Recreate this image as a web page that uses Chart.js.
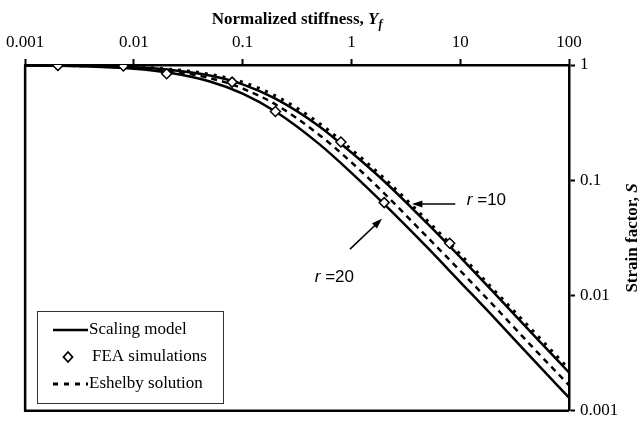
<!DOCTYPE html>
<html>
<head>
<meta charset="utf-8">
<script src="https://cdn.jsdelivr.net/npm/chart.js@4.4.1/dist/chart.umd.min.js"></script>
<style>
  html, body { margin: 0; padding: 0; background: #fff; }
  #wrap { width: 643px; height: 426px; }
</style>
</head>
<body>
<div id="wrap"><canvas id="strainChart" width="643" height="426"></canvas></div>
<script>
// normalized stiffness values the curves are sampled at
const yfGrid = [0.001, 0.002, 0.005, 0.01, 0.02, 0.05, 0.1, 0.2, 0.5, 1, 2, 5, 10, 20, 50, 100];

// strain factor S, scaling model and Eshelby solution, r = 10 and r = 20
const scalingR10 = [0.995, 0.99, 0.977, 0.955, 0.913, 0.81, 0.68, 0.51, 0.296, 0.174, 0.098, 0.042, 0.0215, 0.0108, 0.0043, 0.00215];
const scalingR20 = [0.992, 0.985, 0.963, 0.93, 0.865, 0.72, 0.565, 0.395, 0.208, 0.116, 0.062, 0.026, 0.0131, 0.0066, 0.0026, 0.0013];
const eshelbyR10 = [0.996, 0.992, 0.98, 0.96, 0.925, 0.83, 0.71, 0.54, 0.315, 0.185, 0.104, 0.0445, 0.0228, 0.0114, 0.0046, 0.0023];
const eshelbyR20 = [0.994, 0.988, 0.97, 0.943, 0.893, 0.77, 0.625, 0.455, 0.25, 0.143, 0.077, 0.032, 0.0164, 0.0083, 0.0033, 0.00167];

// FEA simulation points
const feaYf = [0.002, 0.008, 0.02, 0.08, 0.2, 0.8, 2, 8];
const feaS = [0.99, 0.98, 0.84, 0.71, 0.395, 0.215, 0.064, 0.0284];

// decade ticks on both axes
const xTicks = [0.001, 0.01, 0.1, 1, 10, 100];
const yTicks = [0.001, 0.01, 0.1, 1];

// r labels with their arrows, in data units [Yf, S]
const rNotes = [
    { text: '10', label: [11.5, 0.067], from: [9.0, 0.0622], to: [3.6, 0.0622] },
    { text: '20', label: [0.46, 0.0143], from: [0.97, 0.0253], to: [1.91, 0.0464] }
];

const serif = '"Liberation Serif", "Times New Roman", serif';
const sans = '"Liberation Sans", Arial, sans-serif';

function toPoints(xs, ys) {
    return xs.map((x, i) => ({ x: x, y: ys[i] }));
}

// draws a row of text pieces with different fonts, starting at x
function drawRuns(ctx, runs, x, y) {
    runs.forEach((r) => {
        ctx.font = r.font;
        ctx.fillText(r.text, x, y + (r.dy || 0));
        x += ctx.measureText(r.text).width;
    });
}

function runsWidth(ctx, runs) {
    let w = 0;
    runs.forEach((r) => {
        ctx.font = r.font;
        w += ctx.measureText(r.text).width;
    });
    return w;
}

function drawArrow(ctx, x1, y1, x2, y2) {
    const ang = Math.atan2(y2 - y1, x2 - x1);
    const head = 11;
    ctx.beginPath();
    ctx.moveTo(x1, y1);
    ctx.lineTo(x2 - Math.cos(ang) * head * 0.8, y2 - Math.sin(ang) * head * 0.8);
    ctx.stroke();
    ctx.beginPath();
    ctx.moveTo(x2, y2);
    ctx.lineTo(x2 - head * Math.cos(ang - 0.33), y2 - head * Math.sin(ang - 0.33));
    ctx.lineTo(x2 - head * Math.cos(ang + 0.33), y2 - head * Math.sin(ang + 0.33));
    ctx.closePath();
    ctx.fill();
}

const extras = {
    id: 'extras',
    afterDraw(chart) {
        const ctx = chart.ctx;
        const area = chart.chartArea;
        const xs = chart.scales.x;
        const ys = chart.scales.y;
        ctx.save();

        // left and bottom frame lines
        ctx.strokeStyle = '#000';
        ctx.lineWidth = 2.5;
        ctx.beginPath();
        ctx.moveTo(area.left, area.top);
        ctx.lineTo(area.left, area.bottom);
        ctx.lineTo(area.right, area.bottom);
        ctx.stroke();

        ctx.fillStyle = '#000';
        ctx.textBaseline = 'alphabetic';

        // x axis title
        const xTitle = [
            { text: 'Normalized stiffness, ', font: 'bold 17px ' + serif },
            { text: 'Y', font: 'italic bold 17px ' + serif },
            { text: 'f', font: 'italic bold 12px ' + serif, dy: 4 }
        ];
        const cx = (area.left + area.right) / 2;
        drawRuns(ctx, xTitle, cx - runsWidth(ctx, xTitle) / 2, 24);

        // y axis title, reading upwards
        const yTitle = [
            { text: 'Strain factor, ', font: 'bold 17px ' + serif },
            { text: 'S', font: 'italic bold 17px ' + serif }
        ];
        ctx.save();
        ctx.translate(637, (area.top + area.bottom) / 2);
        ctx.rotate(-Math.PI / 2);
        drawRuns(ctx, yTitle, -runsWidth(ctx, yTitle) / 2, 0);
        ctx.restore();

        // r labels and arrows
        ctx.lineWidth = 1.6;
        rNotes.forEach((n) => {
            drawArrow(ctx,
                xs.getPixelForValue(n.from[0]), ys.getPixelForValue(n.from[1]),
                xs.getPixelForValue(n.to[0]), ys.getPixelForValue(n.to[1]));
            ctx.textBaseline = 'middle';
            drawRuns(ctx, [
                { text: 'r', font: 'italic 17px ' + sans },
                { text: ' =' + n.text, font: '17px ' + sans }
            ], xs.getPixelForValue(n.label[0]), ys.getPixelForValue(n.label[1]));
        });

        // legend box
        const lx = 37, ly = 311, lw = 186, lh = 92;
        ctx.fillStyle = '#fff';
        ctx.fillRect(lx, ly, lw, lh);
        ctx.strokeStyle = '#333';
        ctx.lineWidth = 1;
        ctx.strokeRect(lx + 0.5, ly + 0.5, lw, lh);

        ctx.fillStyle = '#000';
        ctx.strokeStyle = '#000';
        ctx.textBaseline = 'middle';
        ctx.font = '17px ' + serif;

        ctx.lineWidth = 2.5;
        ctx.beginPath();
        ctx.moveTo(53, 330);
        ctx.lineTo(88, 330);
        ctx.stroke();
        ctx.fillText('Scaling model', 89, 330);

        ctx.lineWidth = 1.8;
        ctx.fillStyle = '#fff';
        ctx.beginPath();
        ctx.moveTo(68, 352);
        ctx.lineTo(72.5, 357);
        ctx.lineTo(68, 362);
        ctx.lineTo(63.5, 357);
        ctx.closePath();
        ctx.fill();
        ctx.stroke();
        ctx.fillStyle = '#000';
        ctx.fillText('FEA simulations', 92, 357);

        ctx.lineWidth = 3;
        ctx.setLineDash([5, 6]);
        ctx.beginPath();
        ctx.moveTo(53, 384);
        ctx.lineTo(88, 384);
        ctx.stroke();
        ctx.setLineDash([]);
        ctx.fillText('Eshelby solution', 89, 384);

        ctx.restore();
    }
};

function keepDecades(list) {
    return function (scale) {
        scale.ticks = list.map((v) => ({ value: v }));
    };
}

const ctx = document.getElementById('strainChart');

new Chart(ctx, {
    type: 'scatter',
    data: {
        datasets: [
            {
                label: 'FEA simulations',
                data: toPoints(feaYf, feaS),
                showLine: false,
                pointStyle: 'rectRot',
                pointRadius: 5,
                pointBackgroundColor: '#fff',
                pointBorderColor: '#000',
                pointBorderWidth: 1.5,
                order: 0
            },
            {
                label: 'Scaling model r=10',
                data: toPoints(yfGrid, scalingR10),
                showLine: true,
                borderColor: '#000',
                borderWidth: 2.5,
                pointRadius: 0,
                cubicInterpolationMode: 'monotone',
                order: 1
            },
            {
                label: 'Scaling model r=20',
                data: toPoints(yfGrid, scalingR20),
                showLine: true,
                borderColor: '#000',
                borderWidth: 2.5,
                pointRadius: 0,
                cubicInterpolationMode: 'monotone',
                order: 1
            },
            {
                label: 'Eshelby solution r=10',
                data: toPoints(yfGrid, eshelbyR10),
                showLine: true,
                borderColor: '#000',
                borderWidth: 3,
                borderDash: [3, 6],
                pointRadius: 0,
                cubicInterpolationMode: 'monotone',
                order: 1
            },
            {
                label: 'Eshelby solution r=20',
                data: toPoints(yfGrid, eshelbyR20),
                showLine: true,
                borderColor: '#000',
                borderWidth: 2.5,
                borderDash: [6, 5],
                pointRadius: 0,
                cubicInterpolationMode: 'monotone',
                order: 1
            }
        ]
    },
    options: {
        responsive: false,
        animation: false,
        layout: { padding: { left: 25, right: 0, top: 0, bottom: 8 } },
        plugins: {
            legend: { display: false },
            tooltip: { enabled: false }
        },
        scales: {
            x: {
                type: 'logarithmic',
                position: 'top',
                min: 0.001,
                max: 100,
                afterBuildTicks: keepDecades(xTicks),
                afterFit: function (scale) { scale.height = 65; },
                grid: { drawOnChartArea: false, tickLength: 6, tickWidth: 2, tickColor: '#000' },
                border: { display: true, color: '#000', width: 2.5 },
                ticks: {
                    color: '#000',
                    padding: 6,
                    maxRotation: 0,
                    font: { family: serif, size: 17 },
                    callback: (v) => String(v)
                }
            },
            y: {
                type: 'logarithmic',
                position: 'right',
                min: 0.001,
                max: 1,
                afterBuildTicks: keepDecades(yTicks),
                afterFit: function (scale) { scale.width = 74; },
                grid: { drawOnChartArea: false, tickLength: 6, tickWidth: 2, tickColor: '#000' },
                border: { display: true, color: '#000', width: 2.5 },
                ticks: {
                    color: '#000',
                    padding: 5,
                    font: { family: serif, size: 17 },
                    callback: (v) => String(v)
                }
            }
        }
    },
    plugins: [extras]
});
</script>
</body>
</html>
